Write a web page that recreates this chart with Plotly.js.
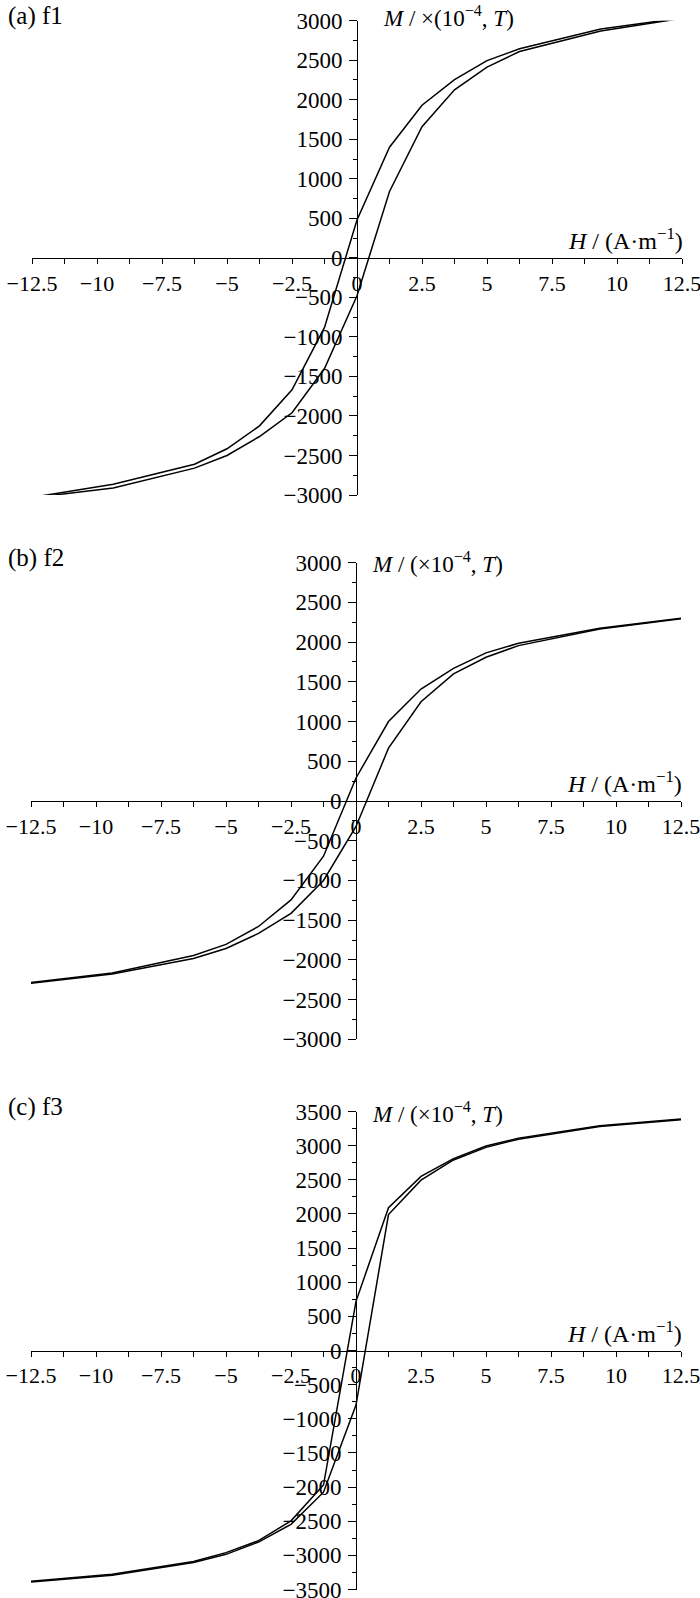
<!DOCTYPE html>
<html>
<head>
<meta charset="utf-8">
<script src="https://cdn.plot.ly/plotly-3.0.1.min.js"></script>
<style>
  html, body { margin: 0; padding: 0; background: #fff; }
  #chart { width: 700px; height: 1598px; }
</style>
</head>
<body>
<div id="chart"></div>
<script>
// ---------------- data ----------------
const H = [-12.5, -9.375, -6.25, -5, -3.75, -2.5, -1.25, 0, 1.25, 2.5, 3.75, 5, 6.25, 9.375, 12.5];

// (a) f1 : descending (upper) and ascending (lower) branches
const f1Desc = [-3030, -2865, -2610, -2415, -2125, -1670, -880, 480, 1400, 1930, 2255, 2495, 2645, 2895, 3035];
const f1Asc  = [-3035, -2910, -2660, -2500, -2260, -1960, -1400, -480, 840, 1660, 2125, 2413, 2610, 2870, 3030];

// (b) f2
const f2Desc = [-2285, -2165, -1945, -1805, -1580, -1245, -695, 290, 1000, 1410, 1670, 1865, 1985, 2175, 2300];
const f2Asc  = [-2295, -2178, -1982, -1856, -1667, -1415, -1000, -320, 665, 1250, 1600, 1810, 1956, 2165, 2295];

// (c) f3
const f3Desc = [-3380, -3275, -3090, -2960, -2785, -2495, -1970, 720, 2090, 2550, 2810, 2995, 3110, 3290, 3390];
const f3Asc  = [-3390, -3290, -3105, -2985, -2805, -2545, -2075, -800, 1990, 2495, 2790, 2975, 3095, 3280, 3380];

// tick labels
const xTickVals = [-12.5, -10, -7.5, -5, -2.5, 0, 2.5, 5, 7.5, 10, 12.5];
const xTickText = ["\u221212.5", "\u221210", "\u22127.5", "\u22125", "\u22122.5", "0", "2.5", "5", "7.5", "10", "12.5"];
const yTickVals3000 = [-3000, -2500, -2000, -1500, -1000, -500, 0, 500, 1000, 1500, 2000, 2500, 3000];
const yTickText3000 = ["\u22123000", "\u22122500", "\u22122000", "\u22121500", "\u22121000", "\u2212500", "0", "500", "1000", "1500", "2000", "2500", "3000"];
const yTickVals3500 = [-3500, -3000, -2500, -2000, -1500, -1000, -500, 0, 500, 1000, 1500, 2000, 2500, 3000, 3500];
const yTickText3500 = ["\u22123500", "\u22123000", "\u22122500", "\u22122000", "\u22121500", "\u22121000", "\u2212500", "0", "500", "1000", "1500", "2000", "2500", "3000", "3500"];

const panelLabels = ["(a) f1", "(b) f2", "(c) f3"];
const mLabels = [
  "<i>M</i> / ×(10<sup>\u22124</sup>, <i>T</i>)",
  "<i>M</i> / (×10<sup>\u22124</sup>, <i>T</i>)",
  "<i>M</i> / (×10<sup>\u22124</sup>, <i>T</i>)"
];
const hLabel = "<i>H</i> / (A·m<sup>\u22121</sup>)";

// ---------------- layout helpers ----------------
const W = 700, HT = 1598;
const px = v => v / W;
const py = v => 1 - v / HT;
const FONT = '"Liberation Serif", "Times New Roman", Times, serif';

// pixel geometry of each panel
const panels = [
  { xl: 32, xr: 682, yt: 20.7, yb: 495, ymax: 3000, yv: yTickVals3000, ytx: yTickText3000, desc: f1Desc, asc: f1Asc, mx: 381, my: 16 },
  { xl: 31, xr: 681, yt: 562.7, yb: 1039.3, ymax: 3000, yv: yTickVals3000, ytx: yTickText3000, desc: f2Desc, asc: f2Asc, mx: 370, my: 562 },
  { xl: 31, xr: 681, yt: 1111.5, yb: 1589.5, ymax: 3500, yv: yTickVals3500, ytx: yTickText3500, desc: f3Desc, asc: f3Asc, mx: 370, my: 1112 }
];

const data = [];
const layout = {
  width: W, height: HT,
  margin: { l: 0, r: 0, t: 0, b: 0, pad: 0 },
  paper_bgcolor: "#fff", plot_bgcolor: "#fff",
  showlegend: false,
  font: { family: FONT, color: "#000", size: 20 },
  annotations: []
};

panels.forEach((p, i) => {
  const n = i === 0 ? "" : String(i + 1);
  const xa = "xaxis" + n, ya = "yaxis" + n;
  const xc = (p.xl + p.xr) / 2;
  const yc = (p.yt + p.yb) / 2;

  [p.desc, p.asc].forEach(arr => {
    data.push({
      x: H, y: arr, type: "scatter", mode: "lines",
      xaxis: "x" + n, yaxis: "y" + n,
      line: { color: "#000", width: 1.5 },
      cliponaxis: false,
      hoverinfo: "skip"
    });
  });

  layout[xa] = {
    domain: [px(p.xl), px(p.xr)],
    range: [-12.5, 12.5],
    anchor: "free", position: py(yc),
    showline: true, linecolor: "#000", linewidth: 1.3,
    showgrid: false, zeroline: false, automargin: false,
    ticks: "outside", ticklen: 5, tickwidth: 1, tickcolor: "#000",
    tickmode: "array", tickvals: xTickVals, ticktext: xTickText,
    tickfont: { family: FONT, size: 22, color: "#000" },
    ticklabeloverflow: "allow",
    minor: { tickmode: "linear", tick0: 0, dtick: 1.25, ticks: "outside", ticklen: 5, tickwidth: 1, tickcolor: "#000", showgrid: false },
    fixedrange: true
  };
  layout[ya] = {
    domain: [py(p.yb), py(p.yt)],
    range: [-p.ymax, p.ymax],
    anchor: "free", position: px(xc),
    showline: true, linecolor: "#000", linewidth: 1.3,
    showgrid: false, zeroline: false, automargin: false,
    ticks: "outside", ticklen: 8, tickwidth: 1, tickcolor: "#000",
    tickmode: "array", tickvals: p.yv, ticktext: p.ytx,
    tickfont: { family: FONT, size: 23, color: "#000" },
    ticklabelstandoff: 2,
    ticklabeloverflow: "allow",
    minor: { tickmode: "linear", tick0: 0, dtick: 250, ticks: "outside", ticklen: 4.5, tickwidth: 1, tickcolor: "#000", showgrid: false },
    fixedrange: true
  };

  layout.annotations.push({
    xref: "paper", yref: "paper", x: px(6), y: py(p.yt - 5), xanchor: "left", yanchor: "middle",
    text: panelLabels[i], showarrow: false, font: { family: FONT, size: 25, color: "#000" }
  });
  layout.annotations.push({
    xref: "paper", yref: "paper", x: px(p.mx), y: py(p.my), xanchor: "left", yanchor: "middle",
    text: mLabels[i], showarrow: false, font: { family: FONT, size: 23, color: "#000" }
  });
  layout.annotations.push({
    xref: "paper", yref: "paper", x: px(p.xr + 3), y: py(yc - 19), xanchor: "right", yanchor: "middle",
    text: hLabel, showarrow: false, font: { family: FONT, size: 24, color: "#000" }
  });
});

Plotly.newPlot("chart", data, layout, { staticPlot: true, displayModeBar: false });
</script>
</body>
</html>
